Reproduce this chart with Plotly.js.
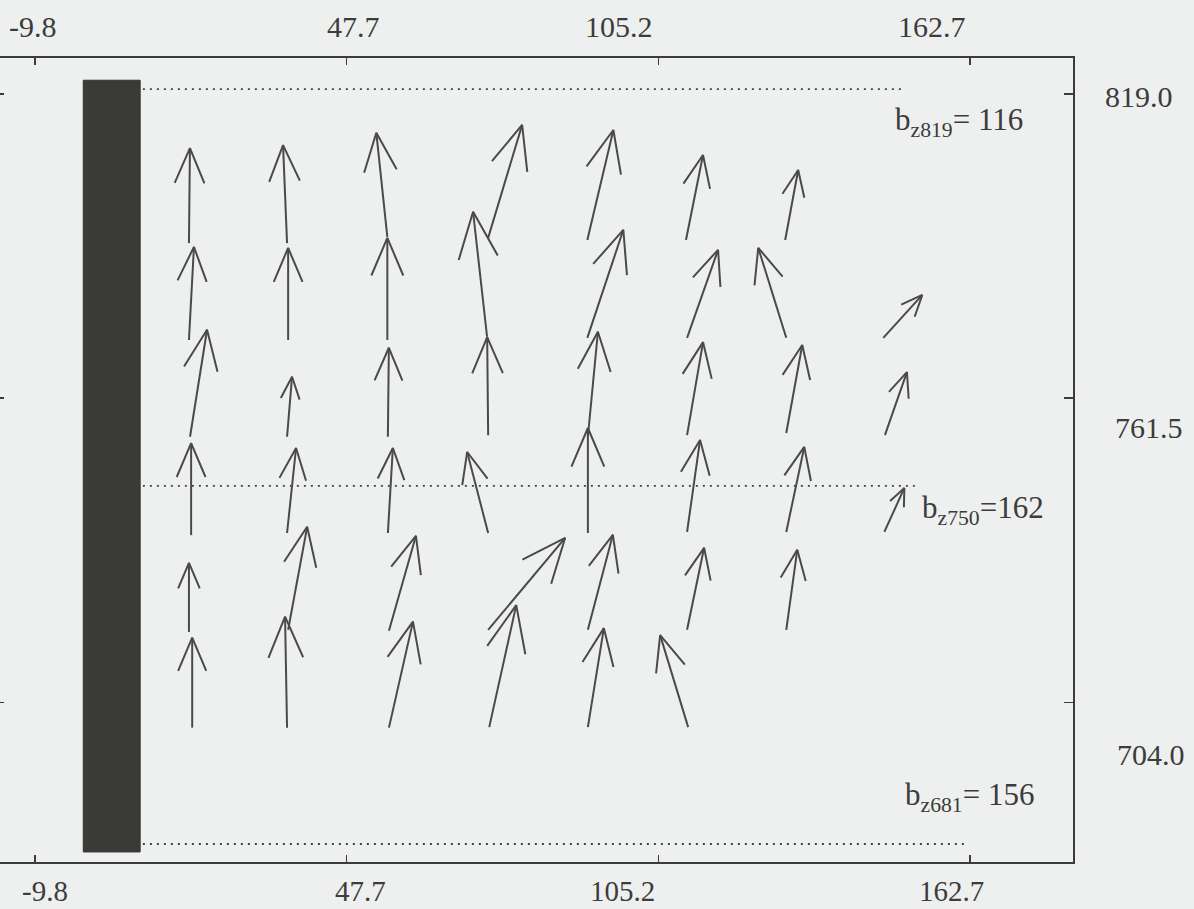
<!DOCTYPE html>
<html>
<head>
<meta charset="utf-8">
<script src="https://cdn.plot.ly/plotly-3.0.1.min.js"></script>
<style>
html,body{margin:0;padding:0;background:#eef0f0;}
#chart{width:1194px;height:909px;}
</style>
</head>
<body>
<div id="chart"></div>
<script>
// ---- data ----
var xTickVals = [-9.8, 47.7, 105.2, 162.7];
var xTickText = ["-9.8", "47.7", "105.2", "162.7"];
var yTickVals = [704.0, 761.5, 819.0];
var yTickText = ["704.0", "761.5", "819.0"];

// wall (dark bar)
var wallX = [-0.9, 9.6];
var wallY = [675.7, 821.6];

// reference levels (dotted)
var levelY = [819.9, 744.9, 677.2];
var levelXStart = [10.1, 10.1, 10.1];
var levelXEnd = [150.7, 153.1, 162.0];
var levelLabel = ["b<sub>z819</sub>= 116", "b<sub>z750</sub>=162", "b<sub>z681</sub>= 156"];
var labelX = [148.5, 153.5, 150.3];
var labelY = [813.7, 740.4, 686.1];

// vectors: tail position and components
var arrowX = [
  18.6, 18.6, 18.8, 19.0, 18.6, 19.2,
  36.7, 36.9, 36.7, 36.7, 36.9, 36.7,
  55.2, 55.2, 55.3, 55.3, 55.5, 55.5,
  73.8, 73.6, 73.8, 73.8, 73.8, 74.0,
  92.1, 92.1, 92.2, 92.2, 92.2, 92.2,
  110.3, 110.5, 110.5, 110.5, 110.5, 110.7,
  128.6, 128.8, 128.8, 128.8, 128.8,
  146.7, 147.0, 146.9
];
var arrowY = [
  790.8, 772.5, 754.2, 735.6, 717.3, 699.2,
  790.8, 772.5, 754.2, 736.0, 717.7, 699.2,
  792.0, 772.5, 754.2, 736.0, 717.5, 699.2,
  791.8, 773.1, 754.5, 736.0, 717.7, 699.3,
  791.4, 772.9, 754.2, 736.0, 717.7, 699.3,
  791.4, 772.9, 754.5, 736.2, 717.7, 699.3,
  791.4, 772.9, 754.9, 736.2, 717.7,
  772.9, 754.5, 736.2
];
var arrowU = [
  0.18, 0.92, 3.14, 0.0, 0.0, 0.0,
  -0.74, 0.0, 0.92, 1.66, 3.51, -0.37,
  -2.03, 0.0, 0.18, 0.92, 4.98, 4.43,
  6.27, -2.58, -0.18, -3.87, 14.21, 4.98,
  4.80, 6.64, 1.85, 0.0, 4.61, 2.95,
  3.14, 5.72, 2.95, 2.40, 3.14, -5.17,
  2.40, -5.17, 2.95, 3.32, 2.03,
  7.20, 4.06, 3.69
];
var arrowV = [
  17.96, 17.58, 20.23, 17.39, 13.04, 17.01,
  18.53, 17.39, 11.34, 16.07, 19.47, 20.98,
  19.66, 19.28, 16.82, 16.07, 17.96, 20.04,
  21.36, 23.63, 18.53, 15.31, 17.39, 23.06,
  20.79, 20.42, 19.85, 19.85, 17.96, 18.71,
  16.07, 16.64, 17.58, 17.39, 15.50, 17.39,
  13.23, 17.01, 16.64, 16.07, 15.12,
  8.13, 11.91, 8.32
];

// ---- layout geometry ----
var W = 1194, H = 909;
var M = {l: 0, r: 121, t: 58, b: 47};
var xRange = [-16.26, 181.7];
var yRange = [673.8, 825.8];
var sx = (W - M.l - M.r) / (xRange[1] - xRange[0]);
var sy = (H - M.t - M.b) / (yRange[1] - yRange[0]);

// build quiver segments (barbs computed in pixel space)
var qx = [], qy = [];
var barbFrac = 0.4, barbAng = 23 * Math.PI / 180;
for (var i = 0; i < arrowX.length; i++) {
  var x0 = arrowX[i], y0 = arrowY[i];
  var x1 = x0 + arrowU[i], y1 = y0 + arrowV[i];
  qx.push(x0, x1, null);
  qy.push(y0, y1, null);
  var dx = arrowU[i] * sx, dy = arrowV[i] * sy;
  var L = Math.sqrt(dx * dx + dy * dy);
  var bl = barbFrac * L;
  var ang = Math.atan2(-dy, -dx);
  var a1 = ang + barbAng, a2 = ang - barbAng;
  qx.push(x1 + bl * Math.cos(a1) / sx, x1, x1 + bl * Math.cos(a2) / sx, null);
  qy.push(y1 + bl * Math.sin(a1) / sy, y1, y1 + bl * Math.sin(a2) / sy, null);
}

var ink = '#3c3c3a';
var arrowColor = '#4a4b48';
var font = '"Liberation Serif", "Times New Roman", serif';

var traces = [];
traces.push({
  x: [wallX[0], wallX[1], wallX[1], wallX[0], wallX[0]],
  y: [wallY[0], wallY[0], wallY[1], wallY[1], wallY[0]],
  type: 'scatter', mode: 'lines', fill: 'toself',
  fillcolor: '#3a3b36', line: {color: '#33342f', width: 1},
  hoverinfo: 'skip', showlegend: false, yaxis: 'y2'
});
for (var k = 0; k < levelY.length; k++) {
  traces.push({
    x: [levelXStart[k], levelXEnd[k]], y: [levelY[k], levelY[k]],
    type: 'scatter', mode: 'lines',
    line: {color: '#444442', width: 1.8, dash: '2px,5px'},
    hoverinfo: 'skip', showlegend: false
  });
}
traces.push({
  x: qx, y: qy, type: 'scatter', mode: 'lines',
  line: {color: arrowColor, width: 2},
  hoverinfo: 'skip', showlegend: false
});

var annotations = [];
var topShift = [-2, 7, -39, -38];
var botShift = [10, 14, -36, -19];
for (var t = 0; t < xTickVals.length; t++) {
  annotations.push({x: xTickVals[t], xref: 'x', y: 1, yref: 'paper', yanchor: 'middle', yshift: 32,
    xshift: topShift[t], text: xTickText[t], showarrow: false, font: {family: font, size: 30, color: ink}});
  annotations.push({x: xTickVals[t], xref: 'x', y: 0, yref: 'paper', yanchor: 'middle', yshift: -29,
    xshift: botShift[t], text: xTickText[t], showarrow: false, font: {family: font, size: 29, color: ink}});
}
var rightShiftY = [-52, -29, -3];
var rightShiftX = [42, 40, 30];
for (var s = 0; s < yTickVals.length; s++) {
  annotations.push({x: 1, xref: 'paper', xanchor: 'left', xshift: rightShiftX[s], y: yTickVals[s], yref: 'y',
    yanchor: 'middle', yshift: rightShiftY[s], text: yTickText[s], showarrow: false,
    font: {family: font, size: 30, color: ink}});
}
for (var m = 0; m < levelLabel.length; m++) {
  annotations.push({x: labelX[m], xref: 'x', xanchor: 'left', y: labelY[m], yref: 'y', yanchor: 'middle',
    text: levelLabel[m], showarrow: false, font: {family: font, size: 31, color: ink}});
}

var layout = {
  width: W, height: H,
  margin: M,
  paper_bgcolor: '#eef0f0', plot_bgcolor: '#eef0f0',
  showlegend: false,
  xaxis: {
    range: xRange, tickvals: xTickVals, showticklabels: false,
    ticks: 'inside', ticklen: 7, tickwidth: 1.5, tickcolor: ink,
    showline: true, linecolor: ink, linewidth: 2, mirror: 'ticks',
    showgrid: false, zeroline: false, fixedrange: true
  },
  yaxis: {
    range: yRange, tickvals: yTickVals, showticklabels: false, side: 'right',
    ticks: 'inside', ticklen: 9, tickwidth: 1.5, tickcolor: ink,
    showline: true, linecolor: ink, linewidth: 2,
    showgrid: false, zeroline: false, fixedrange: true
  },
  yaxis2: {
    range: yRange, overlaying: 'y', side: 'left', tickvals: yTickVals, showticklabels: false,
    ticks: 'inside', ticklen: 4, tickwidth: 1.5, tickcolor: ink,
    showline: false, showgrid: false, zeroline: false, fixedrange: true
  },
  annotations: annotations
};

Plotly.newPlot('chart', traces, layout, {displayModeBar: false, staticPlot: true});
</script>
</body>
</html>
